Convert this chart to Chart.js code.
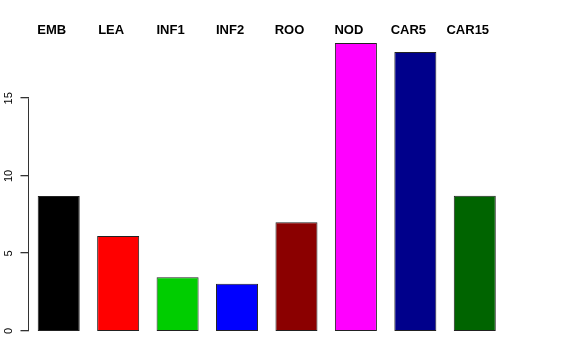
<!DOCTYPE html>
<html>
<head>
<meta charset="utf-8">
<script src="https://cdn.jsdelivr.net/npm/chart.js@4/dist/chart.umd.min.js"></script>
<style>
  body { margin: 0; background: #fff; }
  #wrap { width: 576px; height: 360px; }
</style>
</head>
<body>
<div id="wrap"><canvas id="bar-chart" width="576" height="360"></canvas></div>
<script>
const tissues = ["EMB", "LEA", "INF1", "INF2", "ROO", "NOD", "CAR5", "CAR15"]
const values = [8.70, 6.13, 3.46, 3.05, 7.01, 18.57, 17.99, 8.72]
const barColors = ["#000000", "#FF0000", "#00CD00", "#0000FF", "#8B0000", "#FF00FF", "#00008B", "#006400"]
const yTicks = [0, 5, 10, 15]

// R style axis: line only from first to last tick, plus tick marks
const axisLine = {
    id: "axisLine",
    afterDraw(chart) {
        const y = chart.scales.y
        const ctx = chart.ctx
        const x = Math.round(y.right) - 0.5
        ctx.save()
        ctx.strokeStyle = "#333"
        ctx.lineWidth = 1
        ctx.beginPath()
        ctx.moveTo(x, y.getPixelForValue(yTicks[0]))
        ctx.lineTo(x, y.getPixelForValue(yTicks[yTicks.length - 1]))
        ctx.stroke()
        ctx.fillStyle = "#333"
        yTicks.forEach(v => {
            const py = Math.round(y.getPixelForValue(v)) - 1
            ctx.fillRect(x - 8, py, 8.5, 1.3)
        })
        ctx.restore()
    }
}

const ctx = document.getElementById("bar-chart").getContext("2d")
new Chart(ctx, {
    type: "bar",
    data: {
        labels: tissues,
        datasets: [{
            data: values,
            backgroundColor: barColors,
            borderColor: "#222",
            borderWidth: 1,
            borderSkipped: false,
            categoryPercentage: 1,
            barPercentage: 0.707
        }]
    },
    options: {
        responsive: false,
        animation: false,
        layout: { padding: { left: 0, right: 71.5, top: 21, bottom: 29 } },
        plugins: {
            legend: { display: false },
            tooltip: { enabled: false }
        },
        scales: {
            x: {
                position: "top",
                grid: { display: false, drawTicks: false },
                border: { display: false },
                ticks: {
                    color: "#000",
                    font: { family: "Liberation Sans, Arial", size: 13, weight: "bold" },
                    padding: 2,
                    labelOffset: -7,
                    autoSkip: false,
                    maxRotation: 0
                },
                afterFit: (scale) => { scale.height = 19 }
            },
            y: {
                min: 0,
                max: 18.76,
                afterBuildTicks: (scale) => { scale.ticks = yTicks.map(v => ({ value: v })) },
                grid: { display: false },
                border: { display: false },
                ticks: {
                    color: "#000",
                    font: { family: "Liberation Sans, Arial", size: 11 },
                    minRotation: 90,
                    maxRotation: 90,
                    crossAlign: "center",
                    padding: 6
                },
                afterFit: (scale) => { scale.width = 29 }
            }
        }
    },
    plugins: [axisLine]
})
</script>
</body>
</html>
